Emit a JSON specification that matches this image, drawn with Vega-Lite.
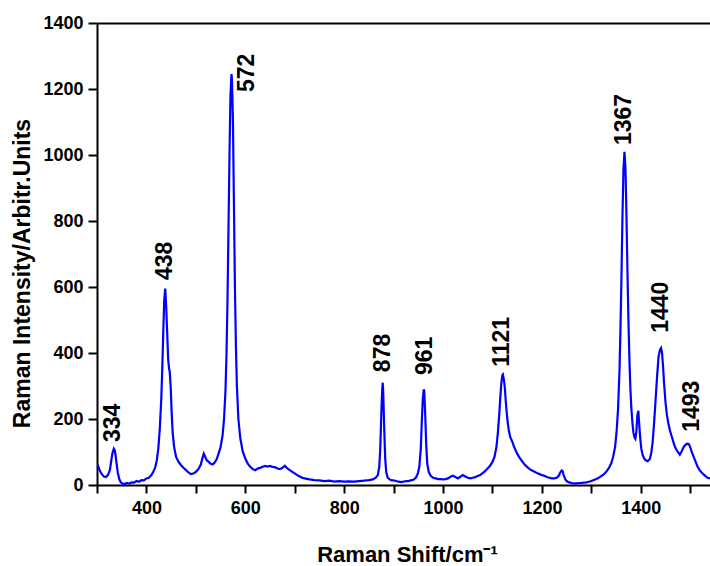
{
  "$schema": "https://vega.github.io/schema/vega-lite/v6.json",
  "width": 613,
  "height": 462,
  "autosize": "none",
  "padding": {"left": 97, "top": 23, "right": 0, "bottom": 81},
  "background": "white",
  "config": {
    "view": {"stroke": null},
    "axis": {"labelFont": "Liberation Sans", "titleFont": "Liberation Sans", "labelFontWeight": "bold", "titleFontWeight": "bold", "labelColor": "black", "titleColor": "black", "domainColor": "black", "tickColor": "black", "grid": false}
  },
  "datasets": {
    "spec": [
      {"x":300,"y":65},{"x":303,"y":55},{"x":306,"y":42},{"x":310,"y":32},{"x":314,"y":26},{"x":318,"y":24},{"x":322,"y":30},{"x":326,"y":45},{"x":329,"y":75},{"x":331,"y":95},{"x":334,"y":110},{"x":336,"y":105},{"x":338,"y":85},{"x":340,"y":60},{"x":342,"y":38},{"x":345,"y":18},{"x":348,"y":8},{"x":352,"y":4},{"x":356,"y":3},{"x":360,"y":6},{"x":365,"y":4},{"x":370,"y":8},{"x":375,"y":7},{"x":380,"y":12},{"x":385,"y":10},{"x":390,"y":15},{"x":395,"y":14},{"x":400,"y":20},{"x":405,"y":22},{"x":410,"y":30},{"x":414,"y":40},{"x":418,"y":55},{"x":421,"y":75},{"x":424,"y":110},{"x":427,"y":170},{"x":430,"y":260},{"x":432,"y":350},{"x":434,"y":460},{"x":436,"y":560},{"x":438,"y":595},{"x":440,"y":540},{"x":442,"y":460},{"x":444,"y":380},{"x":446,"y":350},{"x":447,"y":345},{"x":449,"y":300},{"x":451,"y":220},{"x":453,"y":160},{"x":456,"y":115},{"x":460,"y":85},{"x":465,"y":70},{"x":470,"y":60},{"x":475,"y":52},{"x":480,"y":45},{"x":485,"y":38},{"x":490,"y":33},{"x":495,"y":35},{"x":500,"y":40},{"x":505,"y":48},{"x":510,"y":62},{"x":513,"y":80},{"x":516,"y":95},{"x":519,"y":85},{"x":522,"y":75},{"x":526,"y":70},{"x":530,"y":64},{"x":534,"y":62},{"x":538,"y":68},{"x":542,"y":78},{"x":546,"y":95},{"x":550,"y":115},{"x":554,"y":150},{"x":557,"y":200},{"x":560,"y":290},{"x":562,"y":400},{"x":564,"y":560},{"x":566,"y":780},{"x":568,"y":1000},{"x":570,"y":1180},{"x":572,"y":1245},{"x":573,"y":1230},{"x":575,"y":1100},{"x":577,"y":850},{"x":579,"y":600},{"x":581,"y":420},{"x":583,"y":300},{"x":586,"y":200},{"x":590,"y":140},{"x":595,"y":100},{"x":600,"y":80},{"x":605,"y":65},{"x":610,"y":55},{"x":615,"y":48},{"x":620,"y":45},{"x":625,"y":50},{"x":630,"y":52},{"x":635,"y":55},{"x":640,"y":58},{"x":645,"y":56},{"x":650,"y":58},{"x":655,"y":55},{"x":660,"y":54},{"x":665,"y":50},{"x":670,"y":48},{"x":675,"y":52},{"x":680,"y":58},{"x":685,"y":50},{"x":690,"y":45},{"x":695,"y":40},{"x":700,"y":35},{"x":705,"y":30},{"x":710,"y":26},{"x":715,"y":22},{"x":720,"y":20},{"x":730,"y":17},{"x":740,"y":15},{"x":750,"y":14},{"x":760,"y":12},{"x":770,"y":13},{"x":780,"y":10},{"x":790,"y":12},{"x":800,"y":10},{"x":810,"y":11},{"x":820,"y":10},{"x":830,"y":12},{"x":840,"y":13},{"x":850,"y":15},{"x":858,"y":17},{"x":864,"y":22},{"x":868,"y":30},{"x":871,"y":55},{"x":873,"y":110},{"x":875,"y":210},{"x":877,"y":290},{"x":878,"y":310},{"x":879,"y":280},{"x":881,"y":170},{"x":883,"y":80},{"x":885,"y":40},{"x":888,"y":22},{"x":892,"y":17},{"x":896,"y":14},{"x":900,"y":14},{"x":905,"y":12},{"x":910,"y":10},{"x":915,"y":9},{"x":920,"y":10},{"x":925,"y":12},{"x":930,"y":12},{"x":935,"y":14},{"x":940,"y":16},{"x":945,"y":22},{"x":949,"y":35},{"x":952,"y":55},{"x":955,"y":110},{"x":957,"y":190},{"x":959,"y":260},{"x":961,"y":290},{"x":962,"y":285},{"x":964,"y":210},{"x":966,"y":120},{"x":968,"y":65},{"x":971,"y":40},{"x":975,"y":28},{"x":980,"y":22},{"x":985,"y":20},{"x":990,"y":18},{"x":995,"y":18},{"x":1000,"y":17},{"x":1005,"y":18},{"x":1010,"y":20},{"x":1015,"y":25},{"x":1020,"y":28},{"x":1025,"y":24},{"x":1030,"y":20},{"x":1035,"y":25},{"x":1040,"y":30},{"x":1045,"y":26},{"x":1050,"y":22},{"x":1055,"y":20},{"x":1060,"y":22},{"x":1065,"y":24},{"x":1070,"y":27},{"x":1075,"y":30},{"x":1080,"y":36},{"x":1085,"y":42},{"x":1090,"y":50},{"x":1095,"y":58},{"x":1100,"y":70},{"x":1104,"y":85},{"x":1108,"y":115},{"x":1111,"y":160},{"x":1114,"y":220},{"x":1116,"y":270},{"x":1118,"y":310},{"x":1120,"y":333},{"x":1121,"y":335},{"x":1123,"y":320},{"x":1125,"y":295},{"x":1127,"y":250},{"x":1130,"y":200},{"x":1133,"y":165},{"x":1136,"y":145},{"x":1139,"y":135},{"x":1141,"y":128},{"x":1143,"y":118},{"x":1146,"y":108},{"x":1150,"y":95},{"x":1155,"y":82},{"x":1160,"y":72},{"x":1165,"y":62},{"x":1170,"y":55},{"x":1175,"y":48},{"x":1180,"y":44},{"x":1185,"y":40},{"x":1190,"y":36},{"x":1195,"y":33},{"x":1200,"y":30},{"x":1205,"y":28},{"x":1210,"y":24},{"x":1215,"y":22},{"x":1220,"y":20},{"x":1225,"y":20},{"x":1230,"y":22},{"x":1234,"y":28},{"x":1237,"y":38},{"x":1240,"y":44},{"x":1242,"y":42},{"x":1244,"y":30},{"x":1247,"y":18},{"x":1250,"y":12},{"x":1255,"y":8},{"x":1260,"y":6},{"x":1265,"y":5},{"x":1270,"y":5},{"x":1275,"y":6},{"x":1280,"y":6},{"x":1285,"y":7},{"x":1290,"y":8},{"x":1295,"y":10},{"x":1300,"y":12},{"x":1305,"y":15},{"x":1310,"y":18},{"x":1315,"y":22},{"x":1320,"y":27},{"x":1325,"y":32},{"x":1330,"y":40},{"x":1335,"y":50},{"x":1340,"y":65},{"x":1344,"y":85},{"x":1348,"y":115},{"x":1351,"y":160},{"x":1354,"y":230},{"x":1357,"y":350},{"x":1359,"y":480},{"x":1361,"y":640},{"x":1363,"y":820},{"x":1365,"y":960},{"x":1367,"y":1010},{"x":1369,"y":960},{"x":1371,"y":820},{"x":1373,"y":650},{"x":1375,"y":500},{"x":1377,"y":380},{"x":1379,"y":290},{"x":1381,"y":230},{"x":1383,"y":190},{"x":1385,"y":160},{"x":1387,"y":145},{"x":1389,"y":140},{"x":1391,"y":160},{"x":1393,"y":210},{"x":1395,"y":225},{"x":1397,"y":180},{"x":1399,"y":140},{"x":1401,"y":110},{"x":1404,"y":90},{"x":1407,"y":80},{"x":1410,"y":75},{"x":1414,"y":72},{"x":1418,"y":78},{"x":1421,"y":95},{"x":1424,"y":130},{"x":1427,"y":190},{"x":1430,"y":260},{"x":1433,"y":330},{"x":1436,"y":390},{"x":1439,"y":410},{"x":1441,"y":415},{"x":1443,"y":400},{"x":1445,"y":360},{"x":1447,"y":310},{"x":1450,"y":250},{"x":1453,"y":210},{"x":1456,"y":185},{"x":1459,"y":165},{"x":1462,"y":150},{"x":1465,"y":135},{"x":1468,"y":120},{"x":1471,"y":110},{"x":1475,"y":100},{"x":1479,"y":92},{"x":1482,"y":100},{"x":1485,"y":110},{"x":1488,"y":118},{"x":1491,"y":122},{"x":1494,"y":125},{"x":1497,"y":124},{"x":1500,"y":115},{"x":1503,"y":100},{"x":1507,"y":85},{"x":1511,"y":70},{"x":1515,"y":55},{"x":1519,"y":45},{"x":1523,"y":38},{"x":1527,"y":32},{"x":1531,"y":27},{"x":1535,"y":22},{"x":1540,"y":20}
    ],
    "labels": [
      {"text":"334","x":332,"y":130},
      {"text":"438","x":437.5,"y":621},
      {"text":"572","x":603,"y":1191},
      {"text":"878","x":878,"y":342},
      {"text":"961","x":963,"y":333},
      {"text":"1121","x":1120,"y":358},
      {"text":"1367","x":1367,"y":1030},
      {"text":"1440","x":1441,"y":461},
      {"text":"1493","x":1503,"y":161}
    ]
  },
  "layer": [
    {
      "data": {"name": "spec"},
      "mark": {"type": "line", "color": "#0000ff", "strokeWidth": 2.2, "clip": true},
      "encoding": {
        "x": {"field": "x", "type": "quantitative", "scale": {"domain": [300, 1540], "nice": false, "zero": false},
          "axis": {"orient": "bottom", "values": [300,400,500,600,700,800,900,1000,1100,1200,1300,1400,1500], "labelExpr": "datum.value % 200 == 0 ? datum.label : ''", "format": "d", "labelFontSize": 18, "labelPadding": 6, "tickSize": 8, "tickWidth": 2, "domainWidth": 2, "title": "Raman Shift/cm⁻¹", "titleFontSize": 22, "titleX": 310, "titleY": 76, "titleBaseline": "alphabetic", "titleAlign": "center"}},
        "y": {"field": "y", "type": "quantitative", "scale": {"domain": [0, 1400], "nice": false},
          "axis": {"values": [0,100,200,300,400,500,600,700,800,900,1000,1100,1200,1300,1400], "labelExpr": "datum.value % 200 == 0 ? datum.label : ''", "format": "d", "labelFontSize": 18, "labelPadding": 5, "tickSize": 9, "tickWidth": 2, "domainWidth": 2, "title": "Raman Intensity/Arbitr.Units", "titleFontSize": 23, "titleX": -75, "titleY": 250, "titleAngle": 270, "titleBaseline": "middle", "titleAlign": "center"}}
      }
    },
    {
      "data": {"name": "labels"},
      "mark": {"type": "text", "angle": 270, "align": "left", "baseline": "middle", "font": "Liberation Sans", "fontWeight": "bold", "fontSize": 23, "color": "black"},
      "encoding": {
        "x": {"field": "x", "type": "quantitative", "axis": {"orient": "top", "labels": false, "ticks": false, "title": null, "domainWidth": 2, "domainColor": "black"}},
        "y": {"field": "y", "type": "quantitative"},
        "text": {"field": "text"}
      }
    }
  ],
  "resolve": {"axis": {"x": "independent"}}
}
